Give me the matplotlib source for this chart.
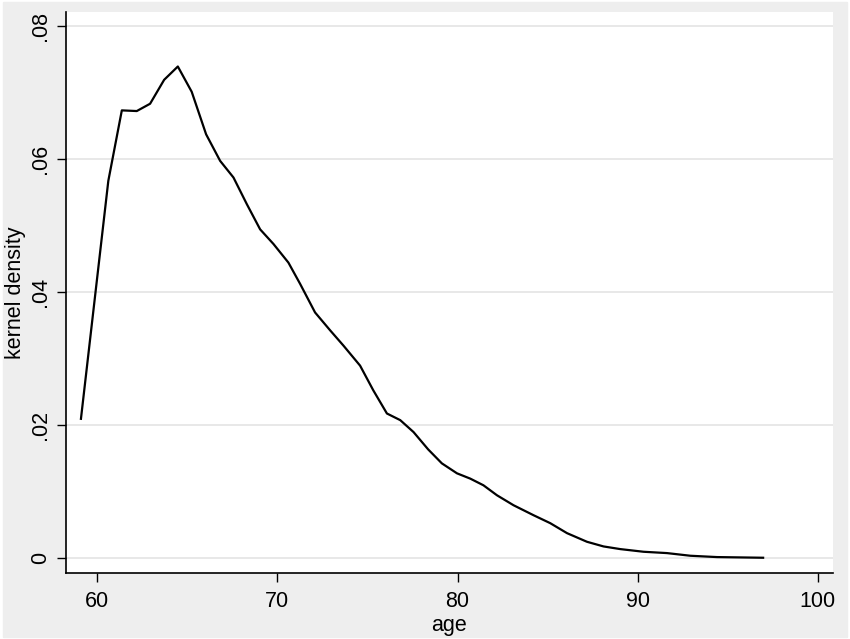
import matplotlib.pyplot as plt
from matplotlib.patches import Rectangle

# kernel density estimate of age
age = [59.09, 60.61, 61.36, 62.19, 62.93, 63.71, 64.47, 65.24, 66.04, 66.82,
       67.56, 68.30, 69.04, 69.78, 70.61, 71.26, 72.09, 72.93, 73.67, 74.59,
       75.32, 76.08, 76.82, 77.56, 78.37, 79.13, 79.97, 80.71, 81.44, 82.19,
       83.11, 84.22, 85.15, 86.08, 87.19, 88.11, 89.04, 90.33, 91.63, 92.93,
       94.41, 96.97]
density = [0.0209, 0.0567, 0.0673, 0.0672, 0.0683, 0.0719, 0.0739, 0.0701,
           0.0637, 0.0597, 0.0572, 0.0532, 0.0494, 0.0472, 0.0444, 0.0412,
           0.0369, 0.0342, 0.0319, 0.0289, 0.0252, 0.0217, 0.0207, 0.0189,
           0.0163, 0.0142, 0.0127, 0.0119, 0.0109, 0.0094, 0.0079, 0.0064,
           0.0052, 0.0037, 0.0024, 0.0017, 0.0013, 0.0009, 0.0007, 0.0003,
           0.0001, 0.0000]

xticks = [60, 70, 80, 90, 100]
yticks = [0, 0.02, 0.04, 0.06, 0.08]
ytick_labels = ['0', '.02', '.04', '.06', '.08']

plt.rcParams['font.family'] = ['Liberation Sans', 'DejaVu Sans']

fig = plt.figure(figsize=(8.5, 6.39), dpi=100, facecolor='white')
# gray graph region with a thin white margin
fig.patches.append(Rectangle((3 / 850, 2 / 639), 844 / 850, 635 / 639,
                             transform=fig.transFigure, color='#eeeeee',
                             zorder=-10))

ax = fig.add_axes([66 / 850, 66.3 / 639, 767 / 850, 560.7 / 639])
ax.set_facecolor('white')

ax.plot(age, density, color='black', lw=1.6)

ax.set_xlim(58.26, 100.85)
ax.set_ylim(-0.00225, 0.0821)
ax.set_xticks(xticks)
ax.set_yticks(yticks)
ax.set_yticklabels(ytick_labels, rotation=90, va='center')

ax.grid(axis='y', color='#e4e4e4', lw=1.2)
ax.set_axisbelow(True)

for side in ['top', 'right']:
    ax.spines[side].set_visible(False)
for side in ['left', 'bottom']:
    ax.spines[side].set_linewidth(1.2)
    ax.spines[side].set_color('black')

ax.tick_params(length=6.5, width=1.0, labelsize=15.5, colors='black')
ax.tick_params(axis='x', pad=7)
ax.tick_params(axis='y', pad=4.5)

ax.set_xlabel('age', fontsize=15.5, labelpad=1.5)
ax.set_ylabel('kernel density', fontsize=15.5, labelpad=2.5)

fig.savefig('out.png', dpi=100, facecolor=fig.get_facecolor())
